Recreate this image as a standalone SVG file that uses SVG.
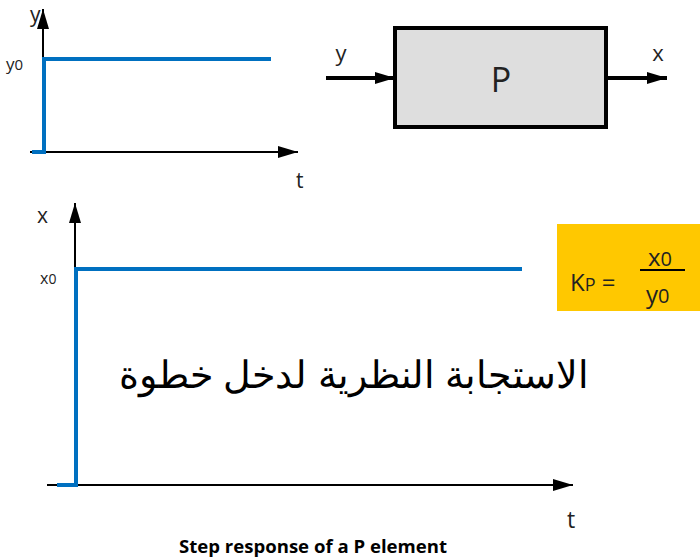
<svg xmlns="http://www.w3.org/2000/svg" width="700" height="560" viewBox="0 0 700 560">
  <defs>
    <marker id="arrBig" viewBox="0 0 10 10" refX="10" refY="5" markerWidth="20" markerHeight="12" markerUnits="userSpaceOnUse" orient="auto" preserveAspectRatio="none">
      <path d="M0,0 L10,5 L0,10 Z" fill="#000"/>
    </marker>
  </defs>
  <style>
    .axis { stroke: #000; stroke-width: 2; fill: none; marker-end: url(#arrBig); }
    .sig { stroke: #0070c0; stroke-width: 4; fill: none; }
    .lbl { font-family: "Open Sans", "Liberation Sans", sans-serif; fill: #222; }
    .flow { stroke: #000; stroke-width: 4; fill: none; marker-end: url(#arrBig); }
  </style>
  <rect width="700" height="560" fill="#fff"/>

  <!-- input step y(t) -->
  <g id="input-plot">
    <line class="axis" x1="43" y1="152" x2="43" y2="9"/>
    <line class="axis" x1="30" y1="152" x2="298" y2="152"/>
    <polyline class="sig" points="32,152 44,152 44,59 271,59"/>
    <text class="lbl" x="30" y="22" font-size="21">y</text>
    <text class="lbl" x="6" y="70" font-size="17">y<tspan font-size="15">0</tspan></text>
    <text class="lbl" x="296" y="188" font-size="21">t</text>
  </g>

  <!-- P block -->
  <g id="block-p">
    <rect x="395" y="28" width="211" height="99" fill="#dedede" stroke="#000" stroke-width="4"/>
    <text class="lbl" x="501" y="92" font-size="34" text-anchor="middle">P</text>
  </g>
  <g id="connectors">
    <line class="flow" x1="326" y1="78" x2="395" y2="78"/>
    <line class="flow" x1="606" y1="78" x2="667" y2="78"/>
  </g>
  <text class="lbl" x="341" y="61" font-size="22" text-anchor="middle">y</text>
  <text class="lbl" x="658" y="61" font-size="22" text-anchor="middle">x</text>

  <!-- output step x(t) -->
  <g id="output-plot">
    <line class="axis" x1="75" y1="485" x2="75" y2="203"/>
    <line class="axis" x1="47" y1="485" x2="573" y2="485"/>
    <polyline class="sig" points="57,485 76,485 76,269 522,269"/>
    <text class="lbl" x="37" y="223" font-size="21">x</text>
    <text class="lbl" x="40" y="284" font-size="16">x<tspan font-size="14">0</tspan></text>
    <text class="lbl" x="567" y="528" font-size="23">t</text>
  </g>

  <!-- gain formula -->
  <g id="gain">
    <rect x="557" y="224" width="143" height="87" fill="#ffc800"/>
    <text class="lbl" x="570" y="291" font-size="24">K<tspan font-size="18">P</tspan> =</text>
    <text class="lbl" x="648" y="266" font-size="24">x<tspan font-size="20">0</tspan></text>
    <line x1="640" y1="270" x2="685" y2="270" stroke="#000" stroke-width="2"/>
    <text class="lbl" x="646" y="303" font-size="24">y<tspan font-size="20">0</tspan></text>
  </g>

  <text x="354" y="388" font-family="Liberation Sans, Arial, sans-serif" font-size="38" text-anchor="middle" fill="#000">الاستجابة النظرية لدخل خطوة</text>

  <text x="313" y="553" font-family="Open Sans, Liberation Sans, sans-serif" font-size="17" font-weight="bold" text-anchor="middle" textLength="268" lengthAdjust="spacingAndGlyphs" fill="#000">Step response of a P element</text>
</svg>
